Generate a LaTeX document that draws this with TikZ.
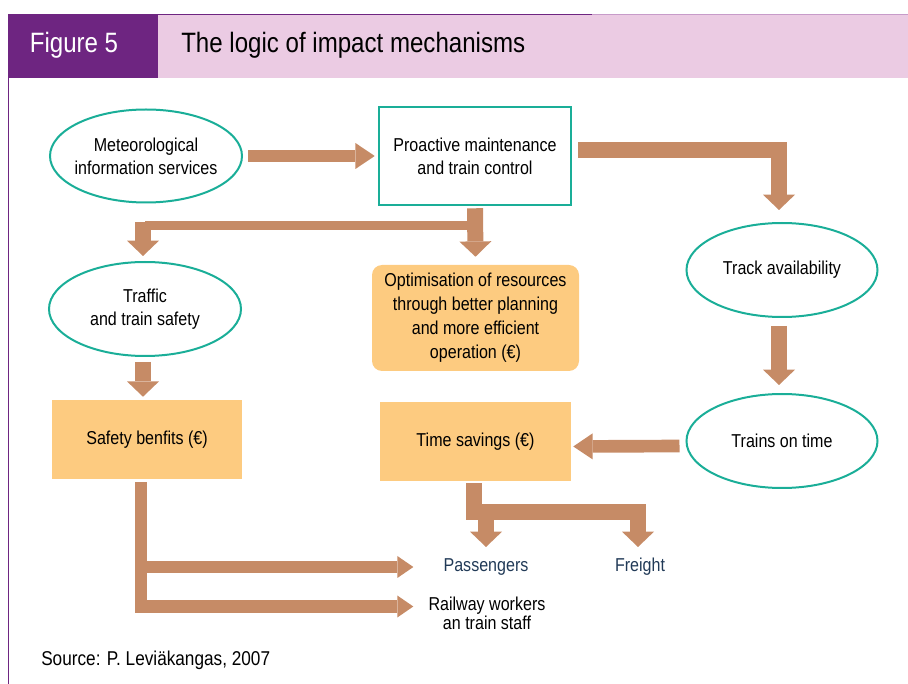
\documentclass[tikz,border=0pt]{standalone}
\usepackage{fontspec}
\setmainfont{Liberation Sans}[FakeStretch=0.86]
\usetikzlibrary{arrows.meta,shapes.geometric,calc}
\definecolor{hdrpurple}{HTML}{6E2581}
\definecolor{hdrpink}{HTML}{EBCBE3}
\definecolor{linepink}{HTML}{C79BC9}
\definecolor{tealc}{HTML}{1AAE98}
\definecolor{arrowc}{HTML}{C68B66}
\definecolor{boxc}{HTML}{FDCB80}
\definecolor{navytext}{HTML}{213A57}
\begin{document}
\begin{tikzpicture}[x=0.75pt,y=-0.75pt,
  ell/.style={ellipse, draw=tealc, line width=1.5pt, inner sep=0pt},
  txt/.style={align=center, font=\fontsize{14}{17.5}\selectfont, inner sep=0pt},
  orangebox/.style={rectangle, fill=boxc, inner sep=0pt, align=center, font=\fontsize{14}{17.5}\selectfont},
  big/.style={draw=arrowc, line width=12pt, line join=miter, line cap=butt,
    -{Triangle[length=11.5pt,width=24pt,line width=0pt]}},
  med/.style={draw=arrowc, line width=9.5pt, line join=miter, line cap=butt,
    -{Triangle[length=14.5pt,width=19.5pt,line width=0pt]}},
  small/.style={draw=arrowc, line width=9pt, line join=miter, line cap=butt,
    -{Triangle[length=12pt,width=16.5pt,line width=0pt]}},
  barline/.style={draw=arrowc, line width=6.75pt, line cap=butt}
]
\useasboundingbox (0,0) rectangle (908,684);
% header
\fill[hdrpink] (158,14) rectangle (908,78);
\fill[hdrpurple] (8,14) rectangle (158,78);
\draw[hdrpurple, line width=0.8pt] (8,14.5) -- (592,14.5);
\draw[linepink, line width=0.8pt] (592,14.5) -- (908,14.5);
\draw[hdrpurple, line width=1pt] (8.7,78) -- (8.7,684);
\node[anchor=base, inner sep=0pt, text=white, font=\fontsize{21}{24}\selectfont] (figlabel) at (74,53) {Figure 5};
\node[anchor=base west, inner sep=0pt, font=\fontsize{21}{24}\selectfont] (title) at (181,53) {The logic of impact mechanisms};

% nodes
\node[ell, minimum width=144pt, minimum height=69.75pt] (met) at (146,156) {};
\node[txt] (mettxt) at (met) {Meteorological\\information services};
\node[rectangle, draw=tealc, line width=1.9pt, minimum width=144pt, minimum height=73.5pt, txt] (pro) at (475,156) {Proactive maintenance\\and train control};
\node[ell, minimum width=143.25pt, minimum height=70.5pt] (track) at (782,270) {};
\node[txt] (tracktxt) at (track) {Track availability};
\node[ell, minimum width=144pt, minimum height=70.5pt] (traffic) at (145,309) {};
\node[txt] (traffictxt) at (traffic) {Traffic\\and train safety};
\node[orangebox, rounded corners=7.5pt, minimum width=155.25pt, minimum height=79.5pt, font=\fontsize{14}{18}\selectfont] (opt) at (475.5,318) {Optimisation of resources\\through better planning\\and more efficient\\operation (€)};
\node[ell, minimum width=143.25pt, minimum height=70.5pt] (trains) at (782,441) {};
\node[txt] (trainstxt) at (trains) {Trains on time};
\node[orangebox, minimum width=142.5pt, minimum height=59.25pt] (safety) at (147,439.5) {Safety benfits (€)};
\node[orangebox, minimum width=143.25pt, minimum height=59.25pt] (time) at (475.5,441.5) {Time savings (€)};
\node[txt, text=navytext] (pass) at (486,567) {Passengers};
\node[txt, text=navytext] (freight) at (640,567) {Freight};
\node[txt, font=\fontsize{14}{12.75}\selectfont] (rail) at (487,613) {Railway workers\\an train staff};
\node[anchor=base west, inner sep=0pt, font=\fontsize{15}{18}\selectfont] (source) at (41,665) {Source: P. Leviäkangas, 2007};

% connectors
\draw[med] ($(met.east)+(5,0)$) -- ($(pro.west)+(-3,0)$);
\draw[big] ($(pro.east)+(6,-5.5)$) -| ($(track.north)+(-3,-12)$);
\draw[big] ($(pro.south)+(0,2)$) -- ($(opt.north)+(0,-8)$);
\coordinate (split) at ($(pro.south)+(0,19.5)$);
\draw[barline] (split) -- (split -| traffic.north);
\draw[big] ($(split -| traffic.north)+(-2,-4)$) -- ($(traffic.north)+(-2,-5)$);
\draw[big] ($(track.south)+(-3,8)$) -- ($(trains.north)+(-3,-8)$);
\draw[med] ($(trains.west)+(-6,5)$) -- ($(time.east)+(2,5)$);
\draw[big] ($(traffic.south)+(-2,5)$) -- ($(safety.north)+(-4,-3)$);
% safety benefits branches
\coordinate (sf) at ($(safety.south)+(-6,3)$);
\coordinate (railtip) at ($(rail.west)+(-15,-6.5)$);
\coordinate (passtip) at ($(pass.west)+(-30,0)$);
\draw[small] (sf) |- (railtip);
\draw[small] (sf |- passtip) -- (passtip);
% time savings branches
\coordinate (ptip) at (486,547);
\coordinate (ftip) at (638,547);
\coordinate (tsplit) at ($(time.south)+(-1.5,30.5)$);
\draw[big] ($(time.south)+(-1.5,2)$) -- (tsplit) -| (ftip);
\draw[big] (tsplit -| ptip) -- (ptip);
\end{tikzpicture}
\end{document}
